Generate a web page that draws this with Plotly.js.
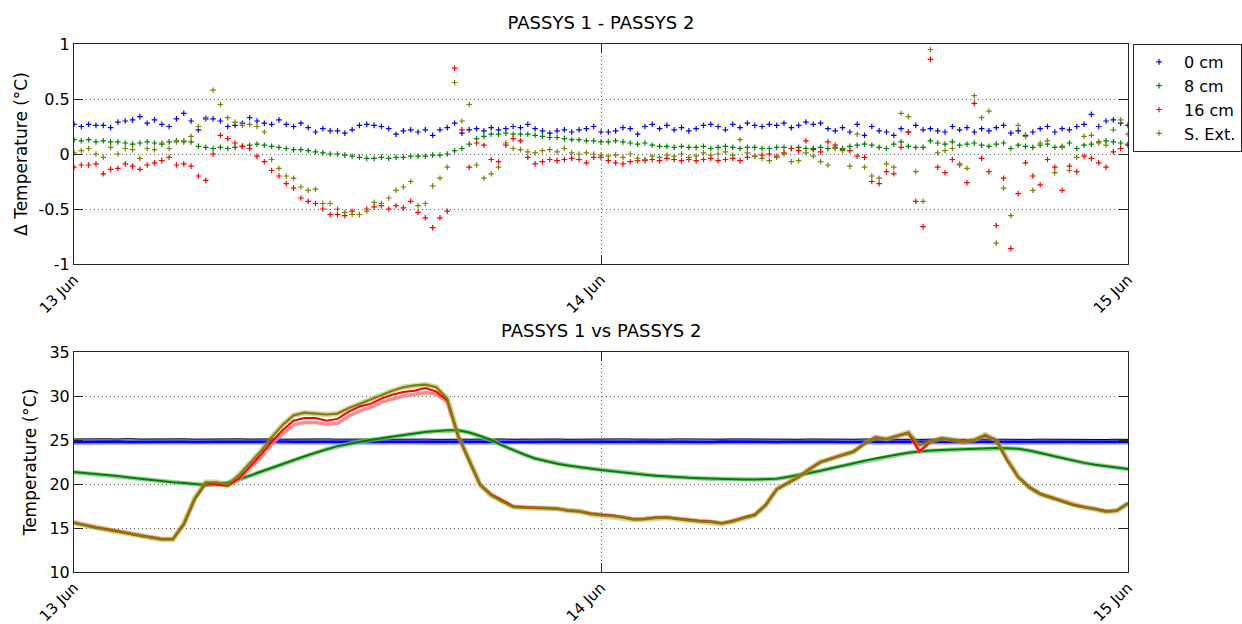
<!DOCTYPE html>
<html>
<head>
<meta charset="utf-8">
<script src="https://cdn.plot.ly/plotly-3.0.1.min.js"></script>
<style>html,body{margin:0;padding:0;background:#fff;}#chart{width:1242px;height:624px;}</style>
</head>
<body>
<div id="chart"></div>
<script>
// ---- sampling ----
const START_UTC = Date.UTC(2013, 5, 13, 0, 0);
const TOP_STEP_MIN = 20;   // top panel sampling (minutes)
const BOT_STEP_MIN = 30;   // bottom panel sampling (minutes)

// ---- labels ----
const seriesNames = ['0 cm', '8 cm', '16 cm', 'S. Ext.'];
const tickDates = ['2013-06-13 00:00', '2013-06-14 00:00', '2013-06-15 00:00'];
const tickLabels = ['13 Jun', '14 Jun', '15 Jun'];
const topYTicks = [-1, -0.5, 0, 0.5, 1];
const topYTickText = ['-1', '-0.5', '0', '0.5', '1'];
const botYTicks = [10, 15, 20, 25, 30, 35];
const botYTickText = ['10', '15', '20', '25', '30', '35'];

// ---- top panel: PASSYS 1 - PASSYS 2 (deg C), every 20 min ----
const diff0cm = [
 0.27,0.25,0.27,0.26,0.26,0.24,0.29,0.30,0.31,0.34,0.28,0.31,0.27,0.25,0.32,0.37,0.30,0.22,0.32,0.32,0.30,0.25,0.26,0.28,0.33,0.30,0.28,0.27,0.31,0.27,0.25,0.28,0.24,0.20,0.23,0.21,0.21,
 0.19,0.22,0.26,0.27,0.26,0.25,0.23,0.18,0.21,0.22,0.20,0.22,0.17,0.22,0.24,0.28,0.19,0.22,0.23,0.21,0.24,0.22,0.23,0.25,0.24,0.27,0.23,0.21,0.19,0.21,0.22,0.20,0.22,0.23,0.25,0.20,
 0.20,0.21,0.24,0.23,0.18,0.25,0.27,0.23,0.26,0.22,0.24,0.21,0.23,0.26,0.27,0.25,0.22,0.27,0.24,0.28,0.26,0.25,0.27,0.26,0.28,0.24,0.26,0.29,0.27,0.28,0.23,0.21,0.24,0.20,0.27,0.17,
 0.25,0.21,0.20,0.17,0.23,0.20,0.26,0.22,0.23,0.21,0.20,0.25,0.22,0.24,0.20,0.23,0.21,0.24,0.26,0.19,0.21,0.17,0.20,0.23,0.25,0.20,0.23,0.22,0.25,0.27,0.36,0.25,0.30,0.31,0.28,0.26
];
const diff8cm = [
 0.13,0.12,0.13,0.11,0.12,0.11,0.11,0.10,0.09,0.10,0.11,0.10,0.09,0.11,0.12,0.11,0.11,0.07,0.06,0.05,0.06,0.05,0.06,0.07,0.08,0.09,0.08,0.07,0.06,0.05,0.04,0.04,0.03,0.02,0.01,0.00,0.00,
 -0.01,-0.02,-0.03,-0.04,-0.04,-0.03,-0.04,-0.03,-0.03,-0.02,-0.02,-0.02,-0.01,-0.01,0.00,0.03,0.05,0.09,0.14,0.16,0.18,0.18,0.19,0.18,0.18,0.18,0.17,0.16,0.15,0.15,0.14,0.13,0.13,0.12,0.12,0.11,
 0.11,0.12,0.11,0.10,0.09,0.10,0.08,0.07,0.07,0.06,0.07,0.06,0.06,0.07,0.05,0.06,0.07,0.06,0.05,0.06,0.06,0.05,0.05,0.06,0.06,0.05,0.06,0.05,0.05,0.06,0.05,0.06,0.05,0.07,0.08,0.09,
 0.08,0.06,0.05,0.09,0.11,0.07,0.06,0.06,0.12,0.10,0.09,0.11,0.08,0.09,0.10,0.08,0.07,0.09,0.10,0.05,0.08,0.07,0.06,0.08,0.09,0.06,0.07,0.10,0.05,0.08,0.09,0.11,0.12,0.11,0.10,0.09
];
const diff16cm = [
 -0.12,-0.10,-0.10,-0.09,-0.18,-0.14,-0.13,-0.09,-0.11,-0.14,-0.10,-0.08,-0.06,-0.03,-0.10,-0.09,-0.11,-0.20,-0.24,0.00,0.17,0.14,0.10,0.07,0.05,-0.02,-0.07,-0.15,-0.20,-0.27,-0.31,-0.40,-0.43,-0.45,-0.50,-0.55,-0.55,
 -0.56,-0.52,-0.55,-0.50,-0.48,-0.47,-0.50,-0.47,-0.49,-0.43,-0.53,-0.58,-0.67,-0.58,-0.52,0.78,0.22,-0.12,0.10,0.08,-0.05,-0.07,0.08,0.14,0.12,-0.03,-0.09,-0.07,-0.05,-0.06,-0.05,-0.04,-0.05,-0.08,-0.03,-0.03,
 -0.06,-0.08,-0.09,-0.07,-0.06,-0.06,-0.05,-0.06,-0.04,-0.05,-0.06,-0.05,-0.06,-0.05,-0.04,-0.06,-0.05,-0.04,-0.06,-0.03,-0.02,-0.01,0.00,-0.02,0.01,0.05,0.03,0.12,0.04,0.02,0.11,0.08,0.04,0.03,-0.02,-0.03,
 -0.25,-0.27,-0.16,-0.18,0.06,0.20,-0.43,-0.66,0.86,-0.12,-0.17,-0.05,-0.10,-0.26,0.46,-0.04,-0.16,-0.65,-0.22,-0.86,-0.36,-0.08,-0.20,-0.28,-0.05,-0.12,-0.33,-0.11,-0.16,-0.02,-0.04,-0.08,-0.12,0.02,0.05,0.08
];
const diffExt = [
 0.01,0.03,0.05,0.00,-0.03,0.06,0.00,0.05,0.04,-0.04,0.05,0.04,0.10,0.05,0.11,0.12,0.16,0.25,0.33,0.58,0.45,0.33,0.29,0.26,0.27,0.25,0.20,-0.05,-0.13,-0.20,-0.22,-0.30,-0.33,-0.32,-0.45,-0.45,-0.50,
 -0.53,-0.55,-0.55,-0.52,-0.44,-0.45,-0.40,-0.33,-0.30,-0.25,-0.47,-0.45,-0.29,-0.22,-0.12,0.65,0.30,0.45,-0.10,-0.22,-0.18,-0.12,0.10,0.05,0.04,0.02,0.01,0.03,0.04,0.02,0.05,0.01,0.00,0.01,0.00,-0.01,
 -0.02,-0.01,-0.03,0.00,-0.04,-0.05,-0.02,-0.03,-0.01,-0.02,0.00,-0.03,-0.02,0.01,-0.01,0.00,0.02,-0.01,0.13,0.01,-0.02,-0.04,-0.06,-0.03,0.00,-0.07,-0.06,0.01,-0.02,-0.07,-0.10,0.05,0.03,-0.11,0.18,-0.12,
 -0.20,-0.22,-0.09,-0.12,0.37,0.34,-0.16,-0.43,0.95,0.01,0.03,0.05,-0.09,-0.13,0.53,0.33,0.39,-0.81,-0.31,-0.56,0.26,0.16,-0.33,0.10,0.12,-0.17,0.06,-0.15,-0.03,0.16,0.17,0.10,0.08,0.22,0.31,0.18
];

// ---- bottom panel: temperatures (deg C), every 30 min ----
const temp0cmP1 = [
 25.12,25.15,25.10,25.14,25.12,25.16,25.11,25.13,25.15,25.12,25.14,25.10,25.13,25.16,25.12,25.14,25.11,25.15,25.13,25.10,25.12,25.14,25.11,25.13,25.10,25.12,25.09,25.11,25.08,25.10,25.12,25.09,25.11,25.08,25.10,25.09,25.11,25.08,25.10,25.12,25.09,25.11,25.13,25.10,25.12,25.09,25.11,25.10,25.12,
 25.10,25.13,25.11,25.09,25.12,25.10,25.13,25.11,25.09,25.12,25.10,25.13,25.11,25.12,25.10,25.13,25.11,25.09,25.12,25.10,25.08,25.11,25.09,25.12,25.10,25.08,25.11,25.09,25.07,25.10,25.08,25.11,25.09,25.07,25.10,25.08,25.06,25.09,25.07,25.10,25.08,25.06,25.09,25.07,25.08,25.06,25.09,25.07
];
const temp0cmP2 = [
 24.78,24.80,24.76,24.80,24.82,24.78,24.80,24.77,24.81,24.79,24.80,24.78,24.82,24.80,24.79,24.81,24.80,24.78,24.80,24.82,24.80,24.79,24.81,24.80,24.78,24.80,24.82,24.80,24.79,24.80,24.81,24.80,24.78,24.80,24.82,24.80,24.79,24.80,24.81,24.78,24.80,24.82,24.80,24.79,24.80,24.81,24.80,24.78,24.80,
 24.81,24.79,24.80,24.82,24.78,24.80,24.81,24.79,24.80,24.78,24.82,24.80,24.79,24.81,24.80,24.78,24.80,24.82,24.79,24.80,24.81,24.78,24.80,24.82,24.80,24.79,24.81,24.80,24.78,24.80,24.82,24.80,24.79,24.80,24.81,24.78,24.80,24.82,24.80,24.79,24.80,24.81,24.80,24.78,24.80,24.82,24.80,24.80
];
const temp8cm = [
 21.35,21.25,21.15,21.05,20.9,20.75,20.6,20.45,20.3,20.2,20.1,20.0,19.9,19.95,20.15,20.5,20.95,21.35,21.8,22.25,22.7,23.15,23.55,23.95,24.3,24.55,24.8,25.0,25.2,25.4,25.6,25.75,25.9,26.0,26.1,26.1,25.85,25.45,25.0,24.4,23.85,23.35,22.9,22.6,22.3,22.1,21.9,21.75,21.6,
 21.45,21.35,21.2,21.05,20.95,20.85,20.75,20.7,20.65,20.6,20.55,20.5,20.5,20.5,20.55,20.6,20.8,21.0,21.25,21.5,21.8,22.05,22.35,22.65,22.9,23.15,23.35,23.55,23.7,23.8,23.85,23.9,23.95,24.0,24.05,24.1,24.05,24.0,23.8,23.55,23.25,22.95,22.65,22.4,22.2,22.05,21.85,21.7
];
const temp16cmP1 = [
 15.6,15.3,15.05,14.85,14.6,14.4,14.15,13.95,13.75,13.75,15.4,18.3,20.1,19.95,19.8,20.5,21.7,23.0,24.5,25.7,26.7,27.0,27.0,26.8,26.9,27.7,28.3,28.7,29.3,29.7,30.0,30.2,30.4,30.2,29.3,25.4,22.6,19.9,18.8,18.1,17.45,17.35,17.3,17.3,17.2,17.0,16.9,16.65,16.5,
 16.45,16.25,16.0,16.05,16.2,16.2,16.05,15.9,15.8,15.75,15.55,15.8,16.2,16.5,17.6,19.4,20.1,20.8,21.7,22.5,22.9,23.3,23.7,24.6,25.3,25.1,25.5,25.8,23.7,24.8,25.2,25.0,24.8,25.0,25.5,25.0,22.7,20.8,19.65,18.9,18.5,18.1,17.65,17.4,17.2,16.9,17.0,17.8
];
const temp16cmP2 = [
 15.6,15.3,15.05,14.85,14.6,14.4,14.15,13.95,13.75,13.75,15.4,18.3,20.1,19.95,19.8,20.6,21.9,23.3,24.8,26.1,27.2,27.5,27.5,27.2,27.4,28.2,28.8,29.1,29.7,30.15,30.45,30.6,30.9,30.5,29.5,25.4,22.6,19.9,18.8,18.1,17.45,17.35,17.3,17.3,17.2,17.0,16.9,16.65,16.5,
 16.45,16.25,16.0,16.05,16.2,16.2,16.05,15.9,15.8,15.75,15.55,15.8,16.2,16.5,17.6,19.4,20.1,20.8,21.7,22.5,22.9,23.3,23.7,24.6,25.3,25.1,25.5,25.8,23.7,24.8,25.2,25.0,24.8,25.0,25.5,25.0,22.7,20.8,19.65,18.9,18.5,18.1,17.65,17.4,17.2,16.9,17.0,17.8
];
const tempExt = [
 15.6,15.3,15.0,14.8,14.6,14.35,14.1,13.9,13.7,13.7,15.5,18.4,20.2,20.2,19.9,21.0,22.3,23.7,25.3,26.7,27.8,28.1,28.0,27.9,28.0,28.6,29.1,29.6,30.15,30.6,31.0,31.2,31.3,31.0,29.7,25.5,22.7,19.9,18.7,18.0,17.4,17.3,17.3,17.3,17.2,17.0,16.9,16.6,16.45,
 16.4,16.2,15.95,16.0,16.15,16.2,16.0,15.85,15.75,15.7,15.5,15.75,16.15,16.45,17.6,19.4,20.1,20.8,21.7,22.5,22.9,23.3,23.65,24.6,25.3,25.1,25.5,25.85,24.4,24.8,25.2,25.05,24.75,25.0,25.6,24.9,22.7,20.8,19.6,18.85,18.45,18.05,17.6,17.35,17.15,16.85,16.95,17.8
];

// ---- helpers ----
function stamp(min) {
  return new Date(START_UTC + min * 60000).toISOString().slice(0, 16).replace('T', ' ');
}
function times(n, step) { const a = []; for (let i = 0; i < n; i++) a.push(stamp(i * step)); return a; }
const tTop = times(diff0cm.length, TOP_STEP_MIN);
const tBot = times(temp8cm.length, BOT_STEP_MIN);

const FONT = 'DejaVu Sans, Arial, sans-serif';
const cols = ['#0000ff', '#008000', '#ff0000', '#808000'];
const topData = [diff0cm, diff8cm, diff16cm, diffExt];

const traces = [];
topData.forEach((d, i) => {
  traces.push({
    x: tTop, y: d, name: seriesNames[i], type: 'scatter', mode: 'markers',
    xaxis: 'x', yaxis: 'y',
    marker: { symbol: 'cross-thin', size: 4, color: cols[i], line: { width: 1.2, color: cols[i] } }
  });
});

function botLine(y, color, width, extra) {
  return Object.assign({
    x: tBot, y: y, type: 'scatter', mode: 'lines', xaxis: 'x2', yaxis: 'y2',
    showlegend: false, hoverinfo: 'skip',
    line: { color: color, width: width }
  }, extra || {});
}
traces.push(botLine(temp0cmP2, 'rgba(110,110,255,0.8)', 5.5));
traces.push(botLine(temp0cmP2, '#0000ff', 2.5));
traces.push(botLine(temp0cmP1, '#000000', 1));
traces.push(botLine(temp8cm, 'rgba(120,190,120,0.75)', 4.5));
traces.push(botLine(temp8cm, '#008000', 2));
traces.push(botLine(temp16cmP1, 'rgba(255,120,120,0.85)', 3.5));
traces.push(botLine(tempExt, 'rgba(150,150,40,0.4)', 5.5));
traces.push(botLine(temp16cmP2, '#ff0000', 2));
traces.push(botLine(tempExt, '#808000', 2.2));

const axCommon = {
  showline: true, linecolor: '#262626', linewidth: 1, mirror: 'ticks',
  ticks: 'inside', ticklen: 9, tickcolor: '#262626', tickwidth: 1,
  showgrid: true, gridcolor: '#606060', griddash: '1px,3px', gridwidth: 1,
  zeroline: false, tickfont: { family: FONT, size: 16, color: '#000' }
};
const xCommon = Object.assign({}, axCommon, {
  type: 'date', range: ['2013-06-13 00:00', '2013-06-15 00:00'],
  tickmode: 'array', tickvals: tickDates, ticktext: tickLabels, tickangle: -45,
  tickfont: { family: FONT, size: 15, color: '#000' }
});

const layout = {
  width: 1242, height: 624,
  margin: { l: 74, r: 114, t: 44, b: 52, autoexpand: false },
  paper_bgcolor: '#fff', plot_bgcolor: '#fff',
  font: { family: FONT, color: '#000' },
  showlegend: true,
  title: { text: 'PASSYS 1 - PASSYS 2', font: { family: FONT, size: 18, color: '#000' },
           x: 0.5, xref: 'paper', xanchor: 'center', y: 1 - 23 / 624, yref: 'container', yanchor: 'middle' },
  xaxis: Object.assign({}, xCommon, { anchor: 'y', domain: [0, 1] }),
  yaxis: Object.assign({}, axCommon, {
    anchor: 'x', domain: [308 / 528, 1], range: [-1, 1],
    tickmode: 'array', tickvals: topYTicks, ticktext: topYTickText,
    title: { text: '\u0394 Temperature (\u00B0C)', font: { family: FONT, size: 17, color: '#000' }, standoff: 6 }
  }),
  xaxis2: Object.assign({}, xCommon, { anchor: 'y2', domain: [0, 1] }),
  yaxis2: Object.assign({}, axCommon, {
    anchor: 'x2', domain: [0, 220 / 528], range: [10, 35],
    tickmode: 'array', tickvals: botYTicks, ticktext: botYTickText,
    title: { text: 'Temperature (\u00B0C)', font: { family: FONT, size: 17, color: '#000' }, standoff: 8 }
  }),
  legend: {
    x: (1133 - 74) / 1054, y: 1, xanchor: 'left', yanchor: 'top',
    bgcolor: '#fff', bordercolor: '#262626', borderwidth: 1,
    font: { family: FONT, size: 16, color: '#000' }, itemwidth: 40
  },
  annotations: [{
    text: 'PASSYS 1 vs PASSYS 2', xref: 'paper', yref: 'paper', x: 0.5, y: 242 / 528,
    xanchor: 'center', yanchor: 'middle', showarrow: false,
    font: { family: FONT, size: 18, color: '#000' }
  }]
};

Plotly.newPlot('chart', traces, layout, { displayModeBar: false, staticPlot: true });
</script>
</body>
</html>
